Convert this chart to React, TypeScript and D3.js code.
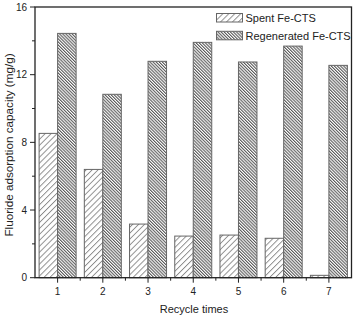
import React from "react";
import * as d3 from "d3";

const categories = ["1", "2", "3", "4", "5", "6", "7"];
const spent = [8.53, 6.4, 3.17, 2.46, 2.52, 2.33, 0.14];
const regenerated = [14.44, 10.84, 12.79, 13.91, 12.75, 13.69, 12.55];
const yTicks = [0, 4, 8, 12, 16];
const yMinor = [2, 6, 10, 14];
const seriesNames = ["Spent Fe-CTS", "Regenerated Fe-CTS"];

const W = 354, H = 319;
const m = { left: 35, right: 2.5, top: 7, bottom: 41.3 };
const FONT = "'Liberation Sans', Arial, sans-serif";

export default function App() {
  const x = d3.scaleLinear().domain([0.5, 7.5]).range([m.left, W - m.right]);
  const y = d3.scaleLinear().domain([0, 16]).range([H - m.bottom, m.top]);
  const bw = 18.5;
  const stroke = "#666";
  const axisC = "#222";
  const xMinor = d3.range(1.5, 7.5, 1);
  return (
    <svg width={W} height={H} style={{ position: "absolute", left: 0, top: 0, background: "#fff" }}>
      <defs>
        <pattern id="pSpent" width={4.2} height={4.2} patternUnits="userSpaceOnUse" patternTransform="rotate(45)">
          <rect width={4.2} height={4.2} fill="#fff" />
          <line x1={0.5} y1={0} x2={0.5} y2={4.2} stroke="#777" strokeWidth={0.8} />
        </pattern>
        <pattern id="pRegen" width={2.2} height={2.2} patternUnits="userSpaceOnUse" patternTransform="rotate(-45)">
          <rect width={2.2} height={2.2} fill="#fff" />
          <line x1={0.55} y1={0} x2={0.55} y2={2.2} stroke="#555" strokeWidth={1.05} />
        </pattern>
      </defs>
      <rect x={0} y={0} width={W} height={H} fill="#fff" />
      {spent.map((v, i) => (
        <rect key={"s" + i} x={x(i + 1) - bw} y={y(v)} width={bw} height={y(0) - y(v)}
          fill="url(#pSpent)" stroke={stroke} strokeWidth={1} />
      ))}
      {regenerated.map((v, i) => (
        <rect key={"r" + i} x={x(i + 1)} y={y(v)} width={bw} height={y(0) - y(v)}
          fill="url(#pRegen)" stroke={stroke} strokeWidth={1} />
      ))}
      {/* frame */}
      <rect x={m.left} y={m.top} width={W - m.right - m.left} height={y(0) - m.top}
        fill="none" stroke={axisC} strokeWidth={1.3} />
      {/* y ticks */}
      {yTicks.map((t) => (
        <g key={"yt" + t}>
          <line x1={m.left - 5} x2={m.left} y1={y(t)} y2={y(t)} stroke={axisC} strokeWidth={1} />
          <text x={m.left - 8} y={y(t)} dy="0.35em" textAnchor="end" fontSize={10} fontFamily={FONT} fill="#222">{t}</text>
        </g>
      ))}
      {yMinor.map((t) => (
        <line key={"ym" + t} x1={m.left - 3} x2={m.left} y1={y(t)} y2={y(t)} stroke={axisC} strokeWidth={1} />
      ))}
      {/* x ticks */}
      {categories.map((c, i) => (
        <g key={"xt" + c}>
          <line x1={x(i + 1)} x2={x(i + 1)} y1={y(0)} y2={y(0) + 5} stroke={axisC} strokeWidth={1} />
          <text x={x(i + 1)} y={y(0) + 17} textAnchor="middle" fontSize={10} fontFamily={FONT} fill="#222">{c}</text>
        </g>
      ))}
      {xMinor.map((t) => (
        <line key={"xm" + t} x1={x(t)} x2={x(t)} y1={y(0)} y2={y(0) + 3} stroke={axisC} strokeWidth={1} />
      ))}
      {/* axis titles */}
      <text x={W / 2 + 17} y={313} textAnchor="middle" fontSize={11} fontFamily={FONT} fill="#222">Recycle times</text>
      <text transform={`translate(13,145) rotate(-90)`} textAnchor="middle" fontSize={11.7} fontFamily={FONT} fill="#222">
        Fluoride adsorption capacity (mg/g)
      </text>
      {/* legend */}
      {seriesNames.map((n, i) => (
        <g key={"lg" + i} transform={`translate(216.5,${13.5 + i * 17.8})`}>
          <rect x={0} y={0} width={26} height={8.5} fill={i === 0 ? "url(#pSpent)" : "url(#pRegen)"} stroke={stroke} strokeWidth={1} />
          <text x={29} y={8.5} fontSize={11} fontFamily={FONT} fill="#222">{n}</text>
        </g>
      ))}
    </svg>
  );
}
